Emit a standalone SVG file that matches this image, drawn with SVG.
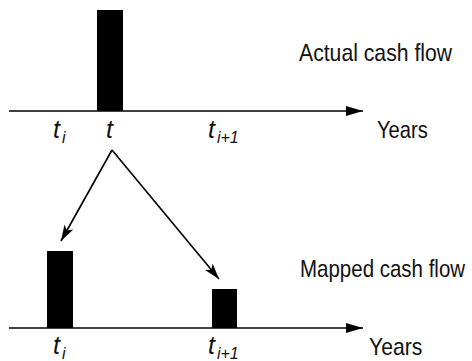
<svg xmlns="http://www.w3.org/2000/svg" width="472" height="361" viewBox="0 0 472 361">
  <defs>
    <marker id="head" viewBox="0 0 16 10" refX="16" refY="5" markerWidth="16" markerHeight="10" markerUnits="userSpaceOnUse" orient="auto">
      <path d="M0,0 L16,5 L0,10 L4,5 Z" fill="#000"/>
    </marker>
    <marker id="axisHead" viewBox="0 0 17 10" refX="17" refY="5" markerWidth="17" markerHeight="10" markerUnits="userSpaceOnUse" orient="auto">
      <path d="M0,0 L17,5 L0,10 Z" fill="#000"/>
    </marker>
  </defs>
  <style>
    .lbl { font-family: "Liberation Sans", Arial, sans-serif; font-size: 24px; fill: #111; }
    .t { font-family: "Liberation Sans", Arial, sans-serif; font-style: italic; font-size: 25px; fill: #111; }
    .sub { font-size: 16px; }
    .axis { stroke: #000; stroke-width: 1.6; fill: none; }
    .map { stroke: #000; stroke-width: 1.6; fill: none; }
    .bar { fill: #000; }
  </style>

  <rect width="472" height="361" fill="#fff"/>

  <!-- actual cash flow timeline -->
  <g id="actual">
    <line class="axis" x1="9" y1="111" x2="363" y2="111" marker-end="url(#axisHead)"/>
    <rect class="bar" x="97" y="10" width="26" height="101"/>
    <!-- labels are set in a condensed face: scaled horizontally -->
    <text class="lbl" transform="translate(299,61) scale(0.86,1)" textLength="178" lengthAdjust="spacingAndGlyphs">Actual cash flow</text>
    <text class="lbl" transform="translate(377,138) scale(0.86,1)" textLength="59" lengthAdjust="spacingAndGlyphs">Years</text>
    <text class="t" x="53" y="138">t<tspan class="sub" dx="2" dy="5">i</tspan></text>
    <text class="t" x="106" y="138">t</text>
    <text class="t" x="208" y="138">t<tspan class="sub" dx="2" dy="5">i+1</tspan></text>
  </g>

  <!-- mapped cash flow timeline -->
  <g id="mapped">
    <line class="axis" x1="9" y1="328" x2="363" y2="328" marker-end="url(#axisHead)"/>
    <rect class="bar" x="47" y="251" width="26" height="77"/>
    <rect class="bar" x="212" y="289" width="25" height="39"/>
    <text class="lbl" transform="translate(300,277) scale(0.86,1)" textLength="192" lengthAdjust="spacingAndGlyphs">Mapped cash flow</text>
    <text class="lbl" transform="translate(369,355) scale(0.86,1)" textLength="62" lengthAdjust="spacingAndGlyphs">Years</text>
    <text class="t" x="53" y="354">t<tspan class="sub" dx="2" dy="5">i</tspan></text>
    <text class="t" x="208" y="354">t<tspan class="sub" dx="2" dy="5">i+1</tspan></text>
  </g>

  <!-- mapping connectors -->
  <g id="connectors">
    <line class="map" x1="112" y1="150" x2="61" y2="241" marker-end="url(#head)"/>
    <line class="map" x1="112" y1="150" x2="219" y2="279" marker-end="url(#head)"/>
  </g>
</svg>
